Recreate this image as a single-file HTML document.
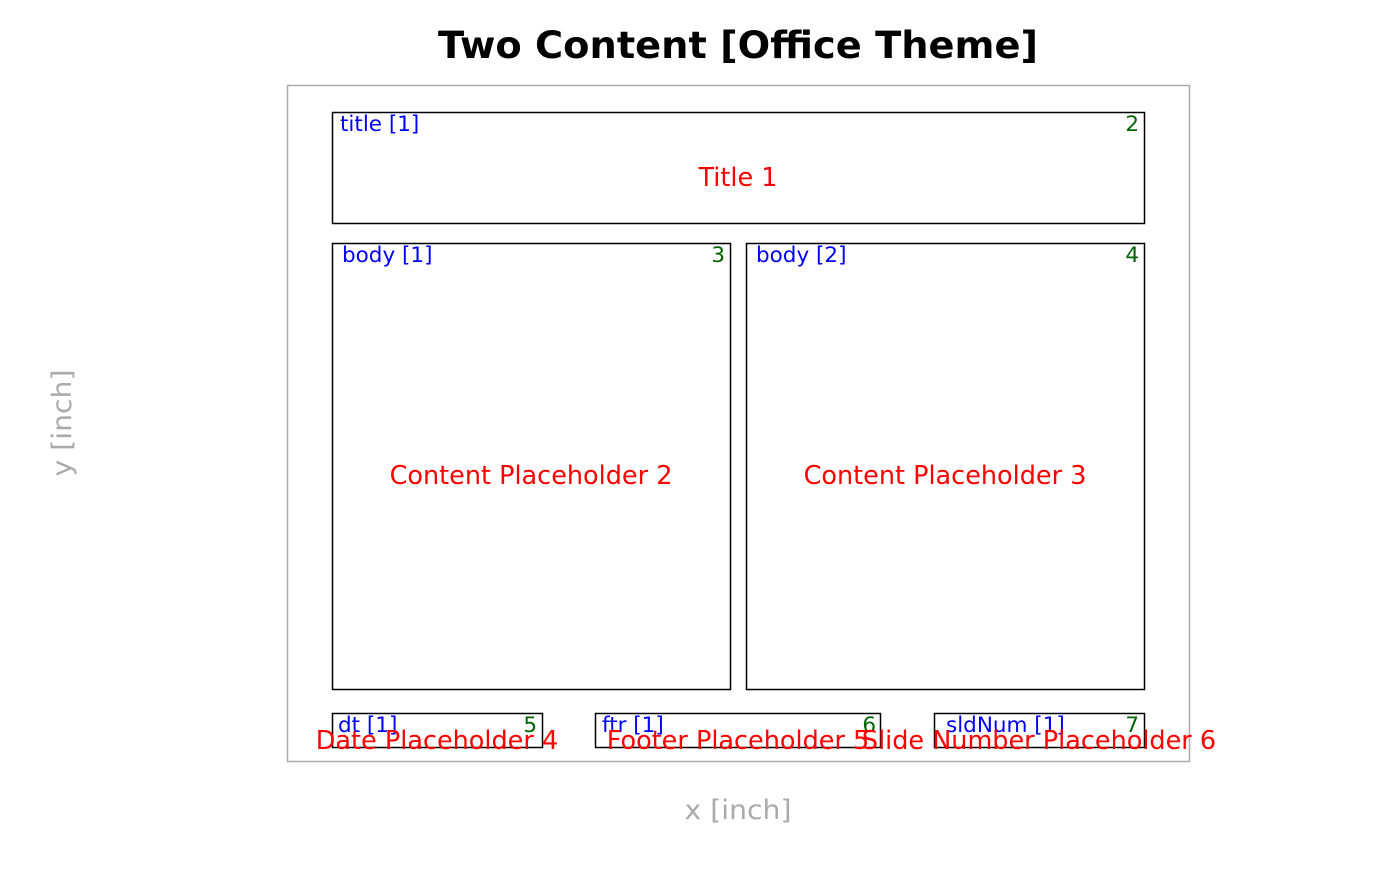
<!DOCTYPE html>
<html><head><style>html,body{margin:0;padding:0;background:#fff}</style></head>
<body>
<svg width="1400" height="866" xmlns="http://www.w3.org/2000/svg" font-family="DejaVu Sans, Liberation Sans, sans-serif">
<rect width="1400" height="866" fill="#fff"/>
<text x="738" y="58" text-anchor="middle" font-size="37" font-weight="bold" textLength="600" lengthAdjust="spacingAndGlyphs">Two Content [Office Theme]</text>
<rect x="287.5" y="85.5" width="902" height="676" fill="none" stroke="#aaa" stroke-width="1.5"/>
<text x="738" y="819" text-anchor="middle" font-size="27" fill="#aaa" textLength="107" lengthAdjust="spacingAndGlyphs">x [inch]</text>
<text transform="translate(71,423) rotate(-90)" text-anchor="middle" font-size="27" fill="#aaa" textLength="107" lengthAdjust="spacingAndGlyphs">y [inch]</text>
<g fill="none" stroke="#000" stroke-width="1.5">
<rect x="332.5" y="112.5" width="812" height="111"/>
<rect x="332.5" y="243.5" width="398" height="446"/>
<rect x="746.5" y="243.5" width="398" height="446"/>
<rect x="332.5" y="713.5" width="210" height="34"/>
<rect x="595.5" y="713.5" width="285" height="34"/>
<rect x="934.5" y="713.5" width="210" height="34"/>
</g>
<g font-size="21.5" fill="#0000ff">
<text x="340" y="131">title [1]</text>
<text x="342" y="262">body [1]</text>
<text x="756" y="262">body [2]</text>
<text x="338" y="732">dt [1]</text>
<text x="602" y="732">ftr [1]</text>
<text x="946" y="732">sldNum [1]</text>
</g>
<g font-size="21.5" fill="#006400" text-anchor="end">
<text x="1139" y="131">2</text>
<text x="725" y="262">3</text>
<text x="1139" y="262">4</text>
<text x="537" y="732">5</text>
<text x="876" y="732">6</text>
<text x="1139" y="732">7</text>
</g>
<g font-size="25.5" fill="#ff0000" text-anchor="middle">
<text x="738" y="186">Title 1</text>
<text x="531" y="484">Content Placeholder 2</text>
<text x="945" y="484">Content Placeholder 3</text>
<text x="437" y="749">Date Placeholder 4</text>
<text x="738" y="749">Footer Placeholder 5</text>
<text x="1039" y="749">Slide Number Placeholder 6</text>
</g>
</svg>
</body></html>
